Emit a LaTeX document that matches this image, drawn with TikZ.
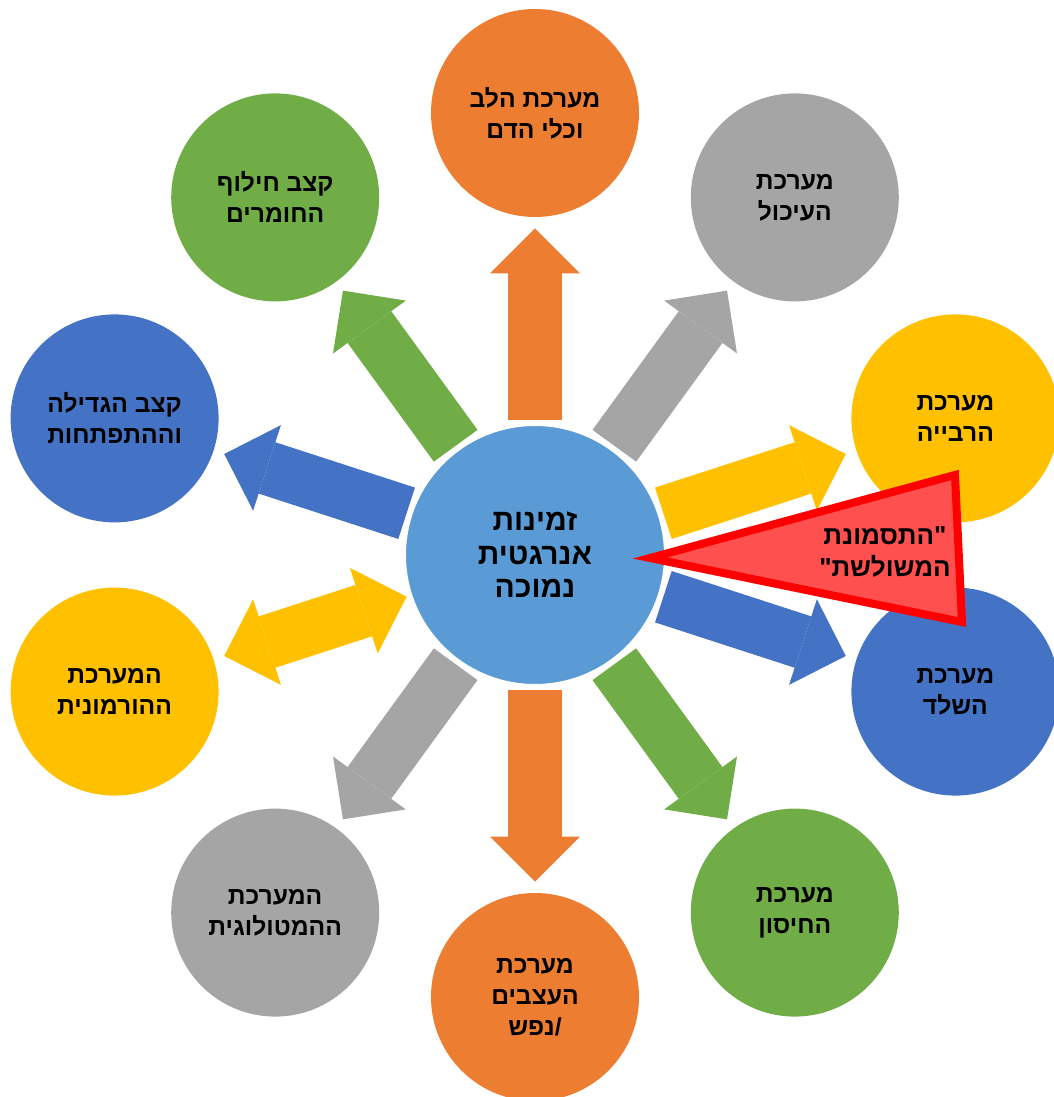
\documentclass[tikz,border=0pt]{standalone}
\usepackage{fontspec}
\usepackage{tikz}
\usetikzlibrary{arrows.meta}
\TeXXeTstate=1
\newfontfamily\hebfont[Script=Hebrew]{Liberation Sans}
\newcommand{\hb}[1]{\beginR #1\endR}

\definecolor{hubblue}{HTML}{5B9BD5}
\definecolor{sysorange}{HTML}{ED7D31}
\definecolor{sysgray}{HTML}{A5A5A5}
\definecolor{sysyellow}{HTML}{FFC000}
\definecolor{sysblue}{HTML}{4472C4}
\definecolor{sysgreen}{HTML}{70AD47}
\definecolor{trifill}{HTML}{FF5050}

\tikzset{
  sys/.style={circle,fill=#1,minimum size=156pt,inner sep=0pt,align=center,
    font=\hebfont\bfseries\fontsize{18.5}{23.25}\selectfont},
  spoke/.style={draw=#1,line width=40.5pt,shorten >=8.25pt,
    -{Triangle[length=33.75pt,width=67.5pt,line width=0pt]}},
  twospoke/.style={draw=#1,line width=40.5pt,shorten >=8.25pt,
    {Triangle[length=33.75pt,width=67.5pt,line width=0pt]}-{Triangle[length=33.75pt,width=67.5pt,line width=0pt]}}
}

\begin{document}
\begin{tikzpicture}[x=0.75pt,y=0.75pt]
			\useasboundingbox (0,0) rectangle (1054,1097);
			
			\node[circle,fill=hubblue,draw=white,line width=4.5pt,minimum size=198pt,inner sep=0pt,align=center,
			  font=\hebfont\bfseries\fontsize{22.5}{25}\selectfont] (hub) at (535,542)
			  {\hb{זמינות}\\\hb{אנרגטית}\\\hb{נמוכה}};
			
			\node[sys=sysorange] (heart) at (535,984) {\hb{מערכת הלב}\\\hb{וכלי הדם}};
			\node[sys=sysgray] (digest) at (794.8,899.6) {\hb{מערכת}\\\hb{העיכול}};
			\node[sys=sysyellow] (repro) at (955.4,678.6) {\hb{מערכת}\\\hb{הרבייה}};
			\node[sys=sysblue] (skel) at (955.4,405.4) {\hb{מערכת}\\\hb{השלד}};
			\node[sys=sysgreen] (immune) at (794.8,184.4) {\hb{מערכת}\\\hb{החיסון}};
			\node[sys=sysorange] (nerve) at (535,100) {\hb{מערכת}\\\hb{העצבים}\\\hb{/נפש}};
			\node[sys=sysgray] (blood) at (275.2,184.4) {\hb{המערכת}\\\hb{ההמטולוגית}};
			\node[sys=sysyellow] (hormone) at (114.6,405.4) {\hb{המערכת}\\\hb{ההורמונית}};
			\node[sys=sysblue] (growth) at (114.6,678.6) {\hb{קצב הגדילה}\\\hb{וההתפתחות}};
			\node[sys=sysgreen] (metab) at (275.2,899.6) {\hb{קצב חילוף}\\\hb{החומרים}};
			
			\draw[spoke=sysorange] (hub) -- (heart);
			\draw[spoke=sysgray] (hub) -- (digest);
			\draw[spoke=sysyellow] (hub) -- (repro);
			\draw[spoke=sysblue] (hub) -- (skel);
			\draw[spoke=sysgreen] (hub) -- (immune);
			\draw[spoke=sysorange] (hub) -- (nerve);
			\draw[spoke=sysgray] (hub) -- (blood);
			\draw[twospoke=sysyellow] (hub) -- (hormone);
			\draw[spoke=sysblue] (hub) -- (growth);
			\draw[spoke=sysgreen] (hub) -- (metab);
			
			% triangle
			\coordinate (tri-tip) at (650,539);
			\coordinate (tri-top) at (955,622);
			\coordinate (tri-bot) at (962,475);
			\draw[red,line width=6pt,fill=trifill] (tri-tip) -- (tri-top) -- (tri-bot) -- cycle;
			\node[align=center,font=\hebfont\bfseries\fontsize{19.5}{24}\selectfont] (synd) at (885,545)
			  {\hb{"התסמונת}\\\hb{המשולשת"}};
			
		\end{tikzpicture}
\end{document}
